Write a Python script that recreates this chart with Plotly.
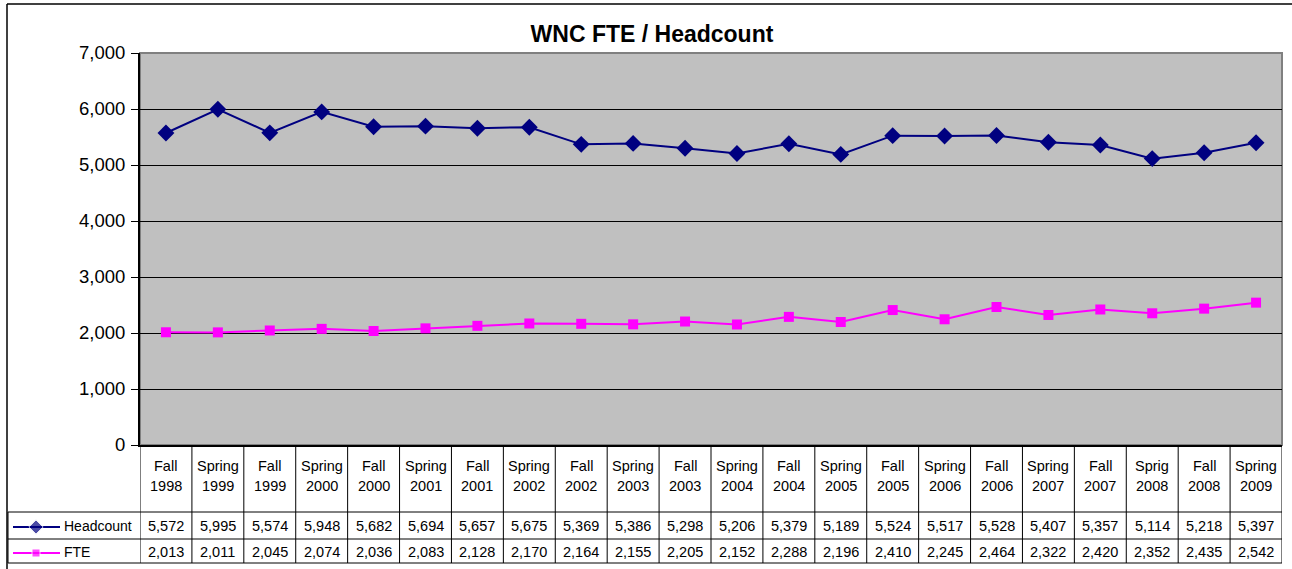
import plotly.graph_objects as go

W, H = 1292, 569

categories = ["Fall 1998", "Spring 1999", "Fall 1999", "Spring 2000", "Fall 2000",
              "Spring 2001", "Fall 2001", "Spring 2002", "Fall 2002", "Spring 2003",
              "Fall 2003", "Spring 2004", "Fall 2004", "Spring 2005", "Fall 2005",
              "Spring 2006", "Fall 2006", "Spring 2007", "Fall 2007", "Sprig 2008",
              "Fall 2008", "Spring 2009"]
headcount = [5572, 5995, 5574, 5948, 5682, 5694, 5657, 5675, 5369, 5386, 5298,
             5206, 5379, 5189, 5524, 5517, 5528, 5407, 5357, 5114, 5218, 5397]
fte = [2013, 2011, 2045, 2074, 2036, 2083, 2128, 2170, 2164, 2155, 2205,
       2152, 2288, 2196, 2410, 2245, 2464, 2322, 2420, 2352, 2435, 2542]
y_ticks = [0, 1000, 2000, 3000, 4000, 5000, 6000, 7000]

NAVY = "#000080"
MAGENTA = "#FF00FF"
FONT = "Arial, Liberation Sans, sans-serif"

# layout geometry (pixels)
PL, PR, PT, PB = 140, 1282, 53, 445
ROW1, ROW2, ROW3 = 512, 539, 563
HDR_Y1, HDR_Y2, HC_Y, FTE_Y = 466, 486, 526, 552

fig = go.Figure()
fig.add_trace(go.Scatter(x=categories, y=headcount, mode="lines+markers", name="Headcount",
                         line=dict(color=NAVY, width=2),
                         marker=dict(symbol="diamond", size=13, color=NAVY),
                         cliponaxis=False, showlegend=False))
fig.add_trace(go.Scatter(x=categories, y=fte, mode="lines+markers", name="FTE",
                         line=dict(color=MAGENTA, width=2),
                         marker=dict(symbol="square", size=10, color=MAGENTA),
                         cliponaxis=False, showlegend=False))

# legend keys inside data table (pixel overlay axes)
for yv, col, sym, sz in [(HC_Y + 1, NAVY, "diamond", 11), (FTE_Y + 1, MAGENTA, "square", 8)]:
    fig.add_trace(go.Scatter(x=[13, 36, 60], y=[yv, yv, yv], xaxis="x2", yaxis="y2",
                             mode="lines+markers", line=dict(color=col, width=2),
                             marker=dict(symbol=sym, size=[0, sz, 0], color=col),
                             showlegend=False, hoverinfo="skip", cliponaxis=False))

shapes = []
# plot area background
shapes.append(dict(type="rect", xref="x domain", yref="y domain", x0=0, x1=1, y0=0, y1=1,
                   fillcolor="#C0C0C0", line=dict(color="#808080", width=2), layer="below"))
# table vertical lines
for i in range(len(categories) + 1):
    shapes.append(dict(type="line", xref="x", yref="y2", x0=i - 0.5, x1=i - 0.5,
                       y0=PB, y1=ROW3, line=dict(color="black", width=1)))
# legend column left line
shapes.append(dict(type="line", xref="x2", yref="y2", x0=8, x1=8, y0=ROW1, y1=ROW3,
                   line=dict(color="black", width=1)))
# table horizontal lines
for yv in (ROW1, ROW2, ROW3):
    shapes.append(dict(type="line", xref="x2", yref="y2", x0=8, x1=PR, y0=yv, y1=yv,
                       line=dict(color="black", width=1)))
# outer chart frame
shapes.append(dict(type="line", xref="x2", yref="y2", x0=7, x1=7, y0=4, y1=H,
                   line=dict(color="black", width=1.5)))
shapes.append(dict(type="line", xref="x2", yref="y2", x0=7, x1=W, y0=4, y1=4,
                   line=dict(color="black", width=1.5)))

annotations = []
tfont = dict(family=FONT, size=14.5, color="black")
for c, h, f in zip(categories, headcount, fte):
    term, year = c.split(" ")
    annotations.append(dict(x=c, y=HDR_Y1, xref="x", yref="y2", text=term,
                            showarrow=False, font=tfont, xanchor="center", yanchor="middle"))
    annotations.append(dict(x=c, y=HDR_Y2, xref="x", yref="y2", text=year,
                            showarrow=False, font=tfont, xanchor="center", yanchor="middle"))
    annotations.append(dict(x=c, y=HC_Y, xref="x", yref="y2", text=f"{h:,}",
                            showarrow=False, font=tfont, xanchor="center", yanchor="middle"))
    annotations.append(dict(x=c, y=FTE_Y, xref="x", yref="y2", text=f"{f:,}",
                            showarrow=False, font=tfont, xanchor="center", yanchor="middle"))
annotations.append(dict(x=62, y=HC_Y, xref="x2", yref="y2", text="Headcount", showarrow=False,
                        font=dict(family=FONT, size=14, color="black"), xanchor="left", yanchor="middle"))
annotations.append(dict(x=62, y=FTE_Y, xref="x2", yref="y2", text="FTE", showarrow=False,
                        font=dict(family=FONT, size=14, color="black"), xanchor="left", yanchor="middle"))

fig.update_layout(
    width=W, height=H,
    margin=dict(l=0, r=0, t=0, b=0, pad=0),
    paper_bgcolor="white",
    plot_bgcolor="rgba(0,0,0,0)",
    font=dict(family=FONT, color="black"),
    title=dict(text="<b>WNC FTE / Headcount</b>", x=652 / W, y=1 - 34 / H,
               xanchor="center", yanchor="middle", font=dict(family=FONT, size=23, color="black")),
    xaxis=dict(domain=[PL / W, PR / W], type="category", range=[-0.5, len(categories) - 0.5],
               showticklabels=False, showgrid=False, showline=True, linecolor="black",
               linewidth=2, ticks="", zeroline=False, automargin=False, fixedrange=True),
    yaxis=dict(domain=[1 - PB / H, 1 - PT / H], range=[0, 7000], tickvals=y_ticks,
               tickformat=",", showgrid=True, gridcolor="black", gridwidth=1,
               showline=True, linecolor="black", linewidth=2, ticks="outside", ticklen=7,
               tickcolor="black", tickwidth=1, ticklabelstandoff=2,
               tickfont=dict(family=FONT, size=18.5, color="black"),
               zeroline=False, automargin=False, fixedrange=True),
    xaxis2=dict(domain=[0, 1], range=[0, W], visible=False, anchor="y2", fixedrange=True),
    yaxis2=dict(domain=[0, 1], range=[H, 0], visible=False, anchor="x2", fixedrange=True),
    shapes=shapes,
    annotations=annotations,
)

fig.write_html("out.html", config={"displayModeBar": False},
               post_script="document.body.style.margin='0';")
